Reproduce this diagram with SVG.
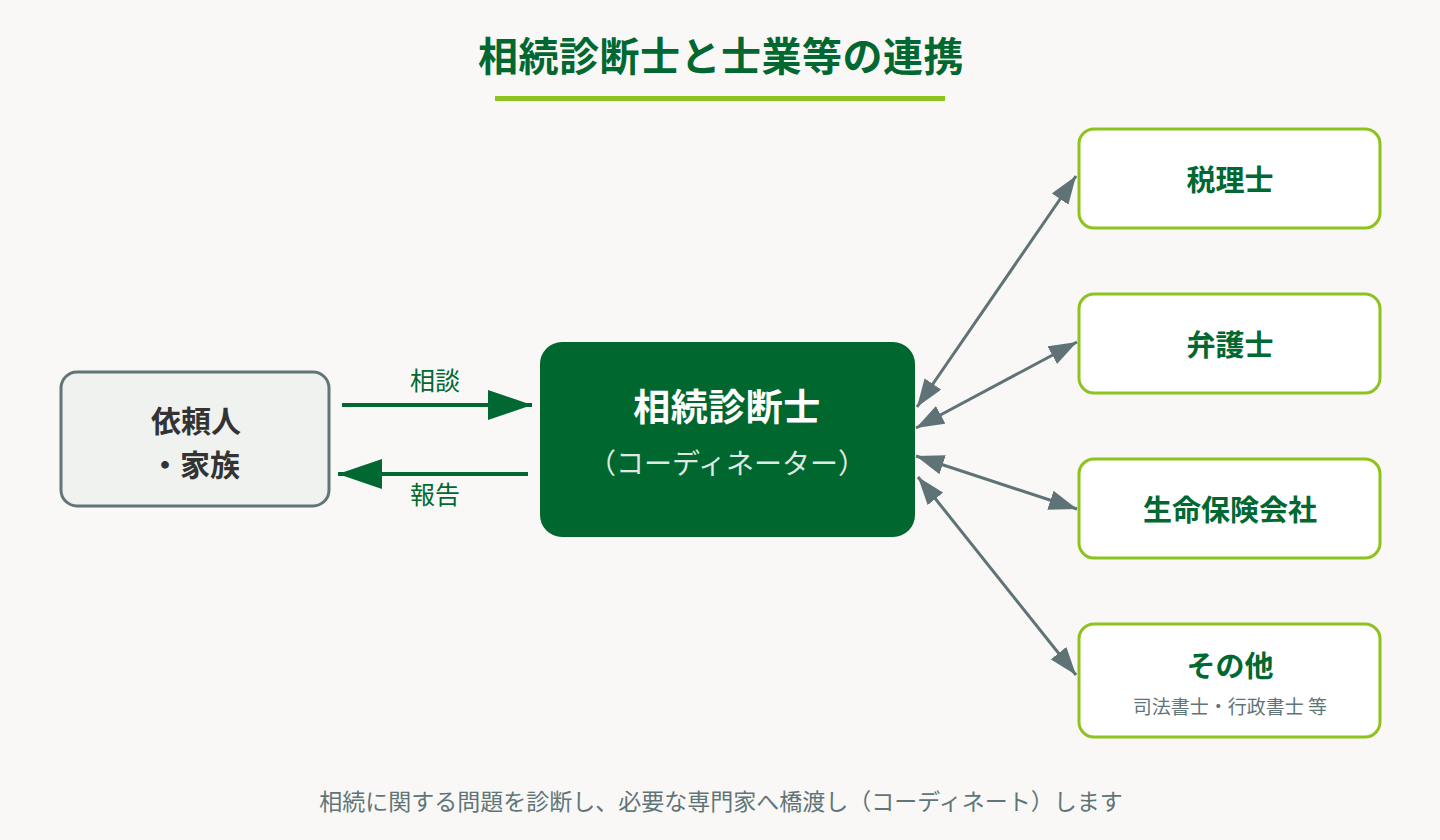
<svg xmlns="http://www.w3.org/2000/svg" width="1440" height="840" viewBox="0 0 1440 840">
<defs>
<style>
.jp{font-family:"Noto Sans CJK JP","Noto Sans",sans-serif}
.title{font-size:40px;font-weight:700;fill:#006830}
.side{fill:#ffffff;stroke:#8dc21f;stroke-width:3}
.sideT{font-size:29px;font-weight:700;fill:#006830}
.lbl{font-size:25px;fill:#006830}
.gray{stroke:#5f7377;stroke-width:3;fill:none}
.green{stroke:#006830;stroke-width:4;fill:none}
</style>
<marker id="ga" viewBox="0 0 28 20" refX="28" refY="10" markerWidth="28" markerHeight="20" markerUnits="userSpaceOnUse" orient="auto-start-reverse"><path d="M0,0 L28,10 L0,20 Z" fill="#5f7377"/></marker>
<marker id="gr" viewBox="0 0 44 30" refX="44" refY="15" markerWidth="44" markerHeight="30" markerUnits="userSpaceOnUse" orient="auto"><path d="M0,0 L44,15 L0,30 Z" fill="#006830"/></marker>
</defs>
<rect width="1440" height="840" fill="#f9f8f6"/>
<g id="title">
<text class="jp title" x="721" y="71" text-anchor="middle" letter-spacing="0.5">相続診断士と士業等の連携</text>
<rect x="495" y="96" width="450" height="5" fill="#8dc21f"/>
</g>
<g id="client">
<rect x="61" y="372" width="268" height="134" rx="16" fill="#f0f2ef" stroke="#607578" stroke-width="3"/>
<text class="jp" x="196" y="432" text-anchor="middle" font-size="30" font-weight="700" fill="#333333">依頼人</text>
<text class="jp" x="195" y="476" text-anchor="middle" font-size="30" font-weight="700" fill="#333333">・家族</text>
</g>
<g id="coordinator">
<rect x="540" y="342" width="375" height="195" rx="22" fill="#00672f"/>
<text class="jp" x="727" y="421" text-anchor="middle" font-size="37" font-weight="700" fill="#ffffff" letter-spacing="0.5">相続診断士</text>
<text class="jp" x="727" y="474" text-anchor="middle" font-size="28" fill="#dfe8e2">（コーディネーター）</text>
</g>
<g id="tax">
<rect class="side" x="1079" y="129" width="301" height="99" rx="15"/>
<text class="jp sideT" x="1230" y="191" text-anchor="middle">税理士</text>
</g>
<g id="lawyer">
<rect class="side" x="1079" y="294" width="301" height="99" rx="15"/>
<text class="jp sideT" x="1230" y="356" text-anchor="middle">弁護士</text>
</g>
<g id="insurance">
<rect class="side" x="1079" y="459" width="301" height="99" rx="15"/>
<text class="jp sideT" x="1230" y="521" text-anchor="middle">生命保険会社</text>
</g>
<g id="other">
<rect class="side" x="1079" y="624" width="301" height="113" rx="15"/>
<text class="jp sideT" x="1230" y="677" text-anchor="middle">その他</text>
<text class="jp" x="1230" y="714" text-anchor="middle" font-size="19" fill="#607578">司法書士・行政書士 等</text>
</g>
<g id="connectors">
<line class="green" x1="342" y1="405" x2="532" y2="405" marker-end="url(#gr)"/>
<text class="jp lbl" x="435" y="390" text-anchor="middle">相談</text>
<line class="green" x1="528" y1="474" x2="338" y2="474" marker-end="url(#gr)"/>
<text class="jp lbl" x="435" y="504" text-anchor="middle">報告</text>
<line class="gray" x1="917" y1="407" x2="1076" y2="176" marker-start="url(#ga)" marker-end="url(#ga)"/>
<line class="gray" x1="916" y1="428" x2="1077" y2="342" marker-start="url(#ga)" marker-end="url(#ga)"/>
<line class="gray" x1="916" y1="456" x2="1077" y2="509" marker-start="url(#ga)" marker-end="url(#ga)"/>
<line class="gray" x1="918" y1="477" x2="1076" y2="675" marker-start="url(#ga)" marker-end="url(#ga)"/>
</g>
<text class="jp" x="721" y="810" text-anchor="middle" font-size="23" fill="#607578">相続に関する問題を診断し、必要な専門家へ橋渡し（コーディネート）します</text>
</svg>
